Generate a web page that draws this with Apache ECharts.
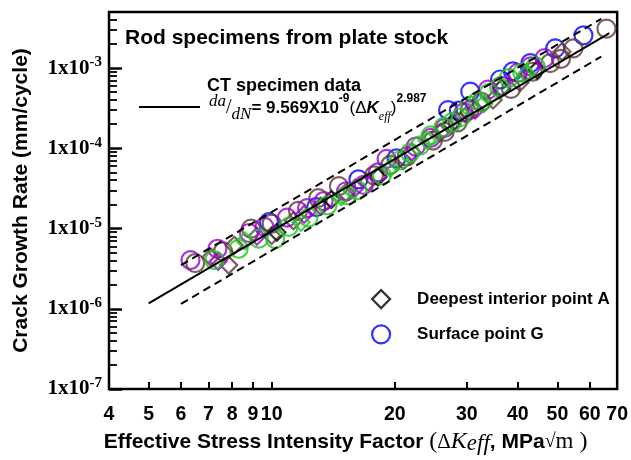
<!DOCTYPE html>
<html><head><meta charset="utf-8">
<script src="https://cdn.jsdelivr.net/npm/echarts@6/dist/echarts.min.js"></script>
<style>html,body{margin:0;padding:0;background:#fff}#c{width:631px;height:460px}</style>
</head><body><div id="c"></div>
<script>
// ---- tick values / labels ----
const xTickValues = [5, 6, 7, 8, 9, 10, 20, 30, 40, 50, 60];
const xLabelValues = [4, 5, 6, 7, 8, 9, 10, 20, 30, 40, 50, 60, 70];
const yMajorValues = [1e-7, 1e-6, 1e-5, 1e-4, 1e-3];
const yMinorMultipliers = [2, 3, 4, 5, 6, 7, 8, 9];
const yMinorDecades = [1e-7, 1e-6, 1e-5, 1e-4];
const yTopMinor = [2e-3, 3e-3, 4e-3];

// ---- CT specimen fit line and scatter band (endpoints) ----
const fitLine = [[5, 1.17e-6], [67, 2.73e-3]];
const upperBound = [[6, 3.5e-6], [64, 4.1e-3]];
const lowerBound = [[6, 1.15e-6], [64, 1.39e-3]];

// ---- Surface point G (circles) ----
const blueG = [[9.85,1.2e-5],[12.85,1.85e-5],[16.3,4.1e-5],[20.2,7.5e-5],[27.0,3.0e-4],[28.7,2.95e-4],[30.6,5.1e-4],[36.2,7.2e-4],[38.9,9.1e-4],[42.9,1.15e-3],[49.4,1.76e-3],[57.9,2.56e-3]];
const brownG = [[6.5,3.7e-6],[7.6,5.2e-6],[8.9,1.0e-5],[10.0,1.15e-5],[11.6,1.66e-5],[13.0,2.4e-5],[14.6,3.37e-5],[17.8,4.6e-5],[19.5,6.2e-5],[21.4,7.9e-5],[24.8,1.25e-4],[26.5,1.6e-4],[28.5,2.1e-4],[30.5,3.0e-4],[32.6,3.8e-4],[38.5,5.5e-4],[43.5,9.0e-4],[48.0,1.15e-3],[51.0,1.3e-3],[54.7,1.76e-3],[65.9,3.1e-3]];
const purpleG = [[6.33,4.05e-6],[7.37,5.6e-6],[8.8,8.8e-6],[9.6,1.05e-5],[10.9,1.37e-5],[12.2,1.8e-5],[13.4,2.2e-5],[15.2,2.9e-5],[16.8,3.5e-5],[18.2,5.0e-5],[19.1,7.4e-5],[22.5,1.05e-4],[24.5,1.35e-4],[26.5,1.8e-4],[29.5,2.8e-4],[33.8,5.4e-4],[36.5,6.0e-4],[40.0,8.7e-4],[43.0,1.05e-3],[46.5,1.33e-3]];
const greenG = [[7.24,4.05e-6],[8.3,5.6e-6],[9.3,7.5e-6],[10.2,7.4e-6],[11.0,1.05e-5],[12.3,1.37e-5],[13.7,1.95e-5],[15.3,2.6e-5],[16.2,3.0e-5],[18.6,4.6e-5],[20.5,7.0e-5],[21.8,8.8e-5],[23.1,1.09e-4],[24.5,1.45e-4],[26.3,1.84e-4],[27.6,2.1e-4],[29.0,2.44e-4],[30.5,3.4e-4],[32.0,3.9e-4],[34.0,4.9e-4],[36.0,5.8e-4],[38.0,7.5e-4],[41.0,8.8e-4],[44.2,1.05e-3]];

// ---- Deepest interior point A (diamonds) ----
const brownA = [[7.1,4.4e-6],[7.85,3.5e-6],[8.1,6.2e-6],[10.0,8.2e-6],[11.3,1.25e-5],[13.2,1.9e-5],[15.2,2.8e-5],[17.2,3.8e-5],[21.0,7.0e-5],[25.8,1.55e-4],[30.0,2.6e-4],[34.8,4.0e-4],[40.5,6.6e-4],[51.3,1.6e-3]];
const blackA = [[10.3,9.0e-6],[14.0,2.3e-5],[18.2,4.4e-5],[27.5,2.0e-4],[36.5,5.6e-4],[44.6,9.5e-4]];
const purpleA = [[7.4,3.9e-6],[9.2,8.0e-6],[12.0,1.5e-5],[16.0,3.2e-5],[22.0,9.0e-5],[31.5,3.0e-4]];
const greenA = [[8.6,7.0e-6],[11.8,1.2e-5],[14.8,2.5e-5],[19.5,5.7e-5],[24.0,1.25e-4],[33.0,3.6e-4],[42.0,8.5e-4]];

const C = {brown:'#5e3834', purple:'#9900cc', green:'#22c322', blue:'#0000ff', black:'#000000'};

const yMinorValues = [];
yMinorDecades.forEach(d => yMinorMultipliers.forEach(m => yMinorValues.push(m * d)));
yTopMinor.forEach(v => yMinorValues.push(v));

const SANS = 'Liberation Sans', SERIF = 'Liberation Serif';

function scatter(name, data, color, symbol) {
  return {
    name, type: 'scatter', data, symbol,
    symbolSize: symbol === 'diamond' ? 17 : 18,
    itemStyle: {color: 'transparent', borderColor: color, borderWidth: 2.2},
    z: 2
  };
}
function line(name, data, dashed) {
  return {
    name, type: 'line', data, symbol: 'none', z: 3,
    lineStyle: {color: '#000', width: 2, type: dashed ? [8, 5] : 'solid'}
  };
}

const chart = echarts.init(document.getElementById('c'), null, {renderer: 'canvas'});
chart.setOption({
  animation: false,
  backgroundColor: '#fff',
  grid: {left: 109, top: 12, width: 513, height: 383, show: true, borderColor: '#000', borderWidth: 2.5, backgroundColor: 'transparent'},
  xAxis: {
    type: 'log', logBase: 10, min: 4, max: 70,
    axisLine: {show: false},
    splitLine: {show: false},
    axisTick: {show: true, inside: true, length: 7, customValues: xTickValues, lineStyle: {color: '#000', width: 2}},
    axisLabel: {customValues: xLabelValues, showMinLabel: true, showMaxLabel: true, margin: 16,
      fontFamily: SANS, fontWeight: 'bold', fontSize: 19.5, color: '#000', formatter: v => String(Math.round(v))},
    name: '{t|Effective Stress Intensity Factor }{p|(}{d|Δ}{k|K}{e|eff}{c|, MPa}{s|√}{m|m}{p| )}',
    nameLocation: 'middle', nameGap: 40,
    nameTextStyle: {
      padding: [0, 35, 0, 0],
      rich: {
        t: {fontFamily: SANS, fontWeight: 'bold', fontSize: 21, color: '#000', lineHeight: 26},
        p: {fontFamily: SERIF, fontSize: 24, color: '#000', lineHeight: 26},
        d: {fontFamily: SERIF, fontSize: 21, color: '#000', lineHeight: 26},
        k: {fontFamily: SERIF, fontStyle: 'italic', fontSize: 24, color: '#000', lineHeight: 26},
        e: {fontFamily: SERIF, fontStyle: 'italic', fontSize: 23, color: '#000', lineHeight: 22, verticalAlign: 'bottom'},
        c: {fontFamily: SANS, fontWeight: 'bold', fontSize: 21, color: '#000', lineHeight: 26},
        s: {fontFamily: SERIF, fontSize: 20, color: '#000', lineHeight: 26},
        m: {fontFamily: SERIF, fontSize: 23, color: '#000', lineHeight: 26}
      }
    }
  },
  yAxis: [{
    type: 'log', logBase: 10, min: 1e-7, max: 5e-3,
    axisLine: {show: false},
    splitLine: {show: false},
    axisTick: {show: true, inside: true, length: 13, customValues: yMajorValues, lineStyle: {color: '#000', width: 2.5}},
    axisLabel: {customValues: yMajorValues, margin: 7, showMinLabel: true,
      formatter: v => '{a|1x10}{b|' + Math.round(Math.log10(v)) + '}',
      rich: {
        a: {fontFamily: SERIF, fontWeight: 'bold', fontSize: 21, color: '#000', lineHeight: 26},
        b: {fontFamily: SERIF, fontWeight: 'bold', fontSize: 15, color: '#000', lineHeight: 15, verticalAlign: 'top'}
      }},
    name: 'Crack Growth Rate (mm/cycle)',
    nameLocation: 'middle', nameGap: 77,
    nameTextStyle: {fontFamily: SANS, fontWeight: 'bold', fontSize: 21, color: '#000'}
  }, {
    type: 'log', logBase: 10, min: 1e-7, max: 5e-3, position: 'left',
    axisLine: {show: false}, splitLine: {show: false}, axisLabel: {show: false},
    axisTick: {show: true, inside: true, length: 8, customValues: yMinorValues, lineStyle: {color: '#000', width: 1.8}}
  }],
  legend: {
    orient: 'vertical', left: 366, top: 284, itemWidth: 18, itemHeight: 18, itemGap: 15,
    selectedMode: false,
    textStyle: {fontFamily: SANS, fontWeight: 'bold', fontSize: 17, color: '#000', padding: [0, 0, 0, 22]},
    data: [
      {name: 'Deepest interior point A', icon: 'diamond', itemStyle: {color: 'transparent', borderColor: '#000', borderWidth: 2.2}},
      {name: 'Surface point G', icon: 'circle', itemStyle: {color: 'transparent', borderColor: '#0000ff', borderWidth: 2.2}}
    ]
  },
  graphic: [
    {type: 'text', x: 125, y: 38.5, style: {text: 'Rod specimens from plate stock', fontFamily: SANS, fontWeight: 'bold', fontSize: 21, fill: '#000', align: 'left', verticalAlign: 'middle'}},
    {type: 'text', x: 207, y: 86, style: {text: 'CT specimen data', fontFamily: SANS, fontWeight: 'bold', fontSize: 18, fill: '#000', align: 'left', verticalAlign: 'middle'}},
    {type: 'line', shape: {x1: 139, y1: 107, x2: 200, y2: 107}, style: {stroke: '#000', lineWidth: 2}},
    {type: 'text', x: 209, y: 108, style: {
      text: '{da|da}{sl|/}{dn|dN}{eq|= 9.569X10}{sup|-9}{p|(}{dk|Δ}{k|K}{sub|eff}{p|)}{sup2|2.987}',
      align: 'left', verticalAlign: 'middle',
      rich: {
        da: {fontFamily: SERIF, fontStyle: 'italic', fontSize: 17, fill: '#000', lineHeight: 8, verticalAlign: 'top'},
        sl: {fontFamily: SERIF, fontSize: 20, fill: '#000', lineHeight: 30},
        dn: {fontFamily: SERIF, fontStyle: 'italic', fontSize: 17, fill: '#000', lineHeight: 26, verticalAlign: 'bottom'},
        eq: {fontFamily: SANS, fontWeight: 'bold', fontSize: 17, fill: '#000', lineHeight: 30},
        sup: {fontFamily: SANS, fontWeight: 'bold', fontSize: 12, fill: '#000', lineHeight: 16, verticalAlign: 'top'},
        p: {fontFamily: SANS, fontSize: 17, fill: '#000', lineHeight: 30},
        dk: {fontFamily: SANS, fontSize: 17, fill: '#000', lineHeight: 30},
        k: {fontFamily: SANS, fontWeight: 'bold', fontStyle: 'italic', fontSize: 17, fill: '#000', lineHeight: 30},
        sub: {fontFamily: SERIF, fontStyle: 'italic', fontSize: 12, fill: '#000', lineHeight: 24, verticalAlign: 'bottom'},
        sup2: {fontFamily: SANS, fontWeight: 'bold', fontSize: 12, fill: '#000', lineHeight: 18, verticalAlign: 'top'}
      }
    }}
  ],
  series: [
    scatter('G blue', blueG, C.blue, 'circle'),
    scatter('G brown', brownG, C.brown, 'circle'),
    scatter('A brown', brownA, C.brown, 'diamond'),
    scatter('A black', blackA, C.black, 'diamond'),
    scatter('G purple', purpleG, C.purple, 'circle'),
    scatter('A purple', purpleA, C.purple, 'diamond'),
    scatter('G green', greenG, C.green, 'circle'),
    scatter('A green', greenA, C.green, 'diamond'),
    line('CT fit', fitLine, false),
    line('upper bound', upperBound, true),
    line('lower bound', lowerBound, true),
    {name: 'Deepest interior point A', type: 'scatter', data: [], symbol: 'diamond', itemStyle: {color: 'transparent', borderColor: '#000', borderWidth: 2}},
    {name: 'Surface point G', type: 'scatter', data: [], symbol: 'circle', itemStyle: {color: 'transparent', borderColor: '#0000ff', borderWidth: 2}}
  ]
});
</script></body></html>
